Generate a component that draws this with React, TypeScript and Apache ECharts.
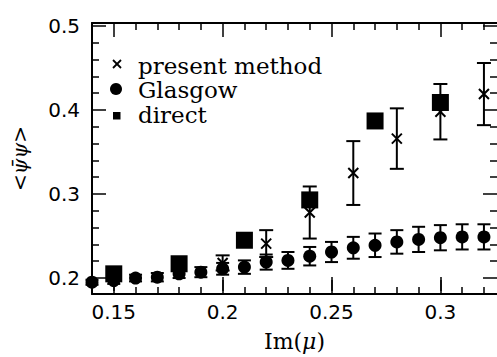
import React, { useEffect, useRef } from "react";
import * as echarts from "echarts";

// Glasgow data (circles with error bars)
const glasgowX = [0.14, 0.15, 0.16, 0.17, 0.18, 0.19, 0.2, 0.21, 0.22, 0.23, 0.24, 0.25, 0.26, 0.27, 0.28, 0.29, 0.3, 0.31, 0.32];
const glasgowY = [0.195, 0.197, 0.2, 0.201, 0.205, 0.207, 0.211, 0.213, 0.219, 0.221, 0.226, 0.231, 0.236, 0.239, 0.243, 0.246, 0.248, 0.249, 0.249];
const glasgowErr = [0.003, 0.004, 0.004, 0.005, 0.005, 0.006, 0.007, 0.008, 0.009, 0.01, 0.011, 0.012, 0.013, 0.014, 0.014, 0.015, 0.015, 0.015, 0.015];

// present method (crosses with error bars)
const presentX = [0.2, 0.22, 0.24, 0.26, 0.28, 0.3, 0.32];
const presentY = [0.218, 0.241, 0.278, 0.325, 0.366, 0.398, 0.419];
const presentErr = [0.009, 0.016, 0.031, 0.038, 0.036, 0.033, 0.037];

// direct (squares)
const directX = [0.15, 0.18, 0.21, 0.24, 0.27, 0.3];
const directY = [0.205, 0.217, 0.245, 0.293, 0.387, 0.409];

// axes
const xMin = 0.14;
const xMax = 0.326;
const yMin = 0.181;
const yMax = 0.5036;
const xMajor = [0.15, 0.2, 0.25, 0.3];
const xMinor = [0.16, 0.17, 0.18, 0.19, 0.21, 0.22, 0.23, 0.24, 0.26, 0.27, 0.28, 0.29, 0.31, 0.32];
const yMajor = [0.2, 0.3, 0.4, 0.5];
const yMinor = [0.22, 0.24, 0.26, 0.28, 0.32, 0.34, 0.36, 0.38, 0.42, 0.44, 0.46, 0.48];

const legendLabels = ["present method", "Glasgow", "direct"];

const BLACK = "#000";
const labelFont = "DejaVu Sans";
const serifFont = "DejaVu Serif";

function errorBarSeries(xs: number[], ys: number[], errs: number[], capW: number) {
  return {
    type: "custom",
    xAxisIndex: 0,
    yAxisIndex: 0,
    silent: true,
    data: xs.map((x, i) => [x, ys[i] - errs[i], ys[i] + errs[i]]),
    encode: { x: 0, y: [1, 2] },
    renderItem: (params: any, api: any) => {
      const x = api.value(0);
      const top = api.coord([x, api.value(2)]);
      const bot = api.coord([x, api.value(1)]);
      const hw = capW / 2;
      const st = { stroke: BLACK, lineWidth: 2 };
      return {
        type: "group",
        children: [
          { type: "line", shape: { x1: top[0], y1: top[1], x2: bot[0], y2: bot[1] }, style: st },
          { type: "line", shape: { x1: top[0] - hw, y1: top[1], x2: top[0] + hw, y2: top[1] }, style: st },
          { type: "line", shape: { x1: bot[0] - hw, y1: bot[1], x2: bot[0] + hw, y2: bot[1] }, style: st },
        ],
      };
    },
  };
}

const fmt = (v: number) => String(Number(v.toFixed(3)));

function xAxisDef(gridIndex: number, position: string, ticks: number[], len: number, showLine: boolean, showLabels: boolean, withName: boolean) {
  return {
    type: "value",
    gridIndex,
    position,
    min: xMin,
    max: xMax,
    name: withName ? "{n|Im(}{i|μ}{n|)}" : "",
    nameLocation: "middle",
    nameGap: 39,
    nameTextStyle: {
      rich: {
        n: { fontFamily: serifFont, fontSize: 22, color: BLACK },
        i: { fontFamily: serifFont, fontSize: 22, fontStyle: "italic", color: BLACK },
      },
    },
    axisLine: { show: showLine, onZero: false, lineStyle: { color: BLACK, width: 2 } },
    axisTick: { show: true, inside: true, length: len, customValues: ticks, lineStyle: { color: BLACK, width: 1.5 } },
    axisLabel: {
      show: showLabels,
      customValues: ticks,
      margin: 11,
      color: BLACK,
      fontFamily: labelFont,
      fontSize: 20,
      formatter: fmt,
    },
    splitLine: { show: false },
  };
}

function yAxisDef(gridIndex: number, position: string, ticks: number[], len: number, showLine: boolean, showLabels: boolean, withName: boolean) {
  return {
    type: "value",
    gridIndex,
    position,
    min: yMin,
    max: yMax,
    name: withName ? "{a|<}{b|ψ̄ψ}{a|>}" : "",
    nameLocation: "middle",
    nameRotate: 90,
    nameGap: 62,
    nameTextStyle: {
      rich: {
        a: { fontFamily: serifFont, fontSize: 20, color: BLACK },
        b: { fontFamily: serifFont, fontSize: 20, fontStyle: "italic", color: BLACK },
      },
    },
    axisLine: { show: showLine, onZero: false, lineStyle: { color: BLACK, width: 2 } },
    axisTick: { show: true, inside: true, length: len, customValues: ticks, lineStyle: { color: BLACK, width: 1.5 } },
    axisLabel: {
      show: showLabels,
      customValues: ticks,
      margin: 12,
      color: BLACK,
      fontFamily: labelFont,
      fontSize: 20,
      formatter: fmt,
    },
    splitLine: { show: false },
  };
}

export default function App() {
  const ref = useRef<HTMLDivElement>(null);

  useEffect(() => {
    if (!ref.current) return;
    const chart = echarts.init(ref.current, null, { renderer: "svg" });

    const legendRowsMid = [66, 89.5, 114.5];
    const legendTextX = 138;
    const gridBox = { left: 92, top: 23, right: 0, bottom: 63, containLabel: false };

    const option: any = {
      animation: false,
      backgroundColor: "#fff",
      grid: [gridBox, { ...gridBox }],
      xAxis: [
        xAxisDef(0, "bottom", xMajor, 14, true, false, false),
        xAxisDef(0, "bottom", xMinor, 7, false, false, false),
        xAxisDef(0, "top", xMajor, 14, true, false, false),
        xAxisDef(0, "top", xMinor, 7, false, false, false),
        xAxisDef(1, "bottom", xMajor, 14, false, true, true),
      ],
      yAxis: [
        yAxisDef(0, "left", yMajor, 14, true, true, true),
        yAxisDef(0, "left", yMinor, 7, false, false, false),
        yAxisDef(0, "right", yMajor, 14, false, false, false),
        yAxisDef(0, "right", yMinor, 7, false, false, false),
        { type: "value", gridIndex: 1, min: yMin, max: yMax, show: false },
      ],
      series: [
        errorBarSeries(glasgowX, glasgowY, glasgowErr, 13),
        {
          type: "scatter",
          name: legendLabels[1],
          xAxisIndex: 0,
          yAxisIndex: 0,
          symbol: "circle",
          symbolSize: 13,
          itemStyle: { color: BLACK, opacity: 1 },
          data: glasgowX.map((x, i) => [x, glasgowY[i]]),
        },
        {
          type: "scatter",
          name: legendLabels[2],
          xAxisIndex: 0,
          yAxisIndex: 0,
          symbol: "rect",
          symbolSize: 17,
          itemStyle: { color: BLACK, opacity: 1 },
          data: directX.map((x, i) => [x, directY[i]]),
        },
        errorBarSeries(presentX, presentY, presentErr, 14),
        {
          type: "scatter",
          name: legendLabels[0],
          xAxisIndex: 0,
          yAxisIndex: 0,
          symbol: "path://M0 0L10 10M10 0L0 10",
          symbolSize: 10,
          itemStyle: { color: "none", borderColor: BLACK, borderWidth: 2, opacity: 1 },
          data: presentX.map((x, i) => [x, presentY[i]]),
        },
      ],
      graphic: [
        {
          type: "group",
          silent: true,
          children: [
            { type: "line", shape: { x1: 113, y1: 60, x2: 121, y2: 68 }, style: { stroke: BLACK, lineWidth: 1.8 } },
            { type: "line", shape: { x1: 121, y1: 60, x2: 113, y2: 68 }, style: { stroke: BLACK, lineWidth: 1.8 } },
            { type: "circle", shape: { cx: 116, cy: 89, r: 6 }, style: { fill: BLACK } },
            { type: "rect", shape: { x: 113, y: 112, width: 7.5, height: 7.5 }, style: { fill: BLACK } },
            ...legendLabels.map((t, i) => ({
              type: "text",
              x: legendTextX,
              y: legendRowsMid[i],
              style: {
                text: t,
                fill: BLACK,
                fontFamily: serifFont,
                fontSize: 23,
                verticalAlign: "middle",
                align: "left",
              },
            })),
          ],
        },
      ],
    };

    chart.setOption(option);
    return () => chart.dispose();
  }, []);

  return (
    <div
      ref={ref}
      style={{ position: "fixed", left: 0, top: 0, width: 497, height: 357, background: "#fff" }}
    />
  );
}
